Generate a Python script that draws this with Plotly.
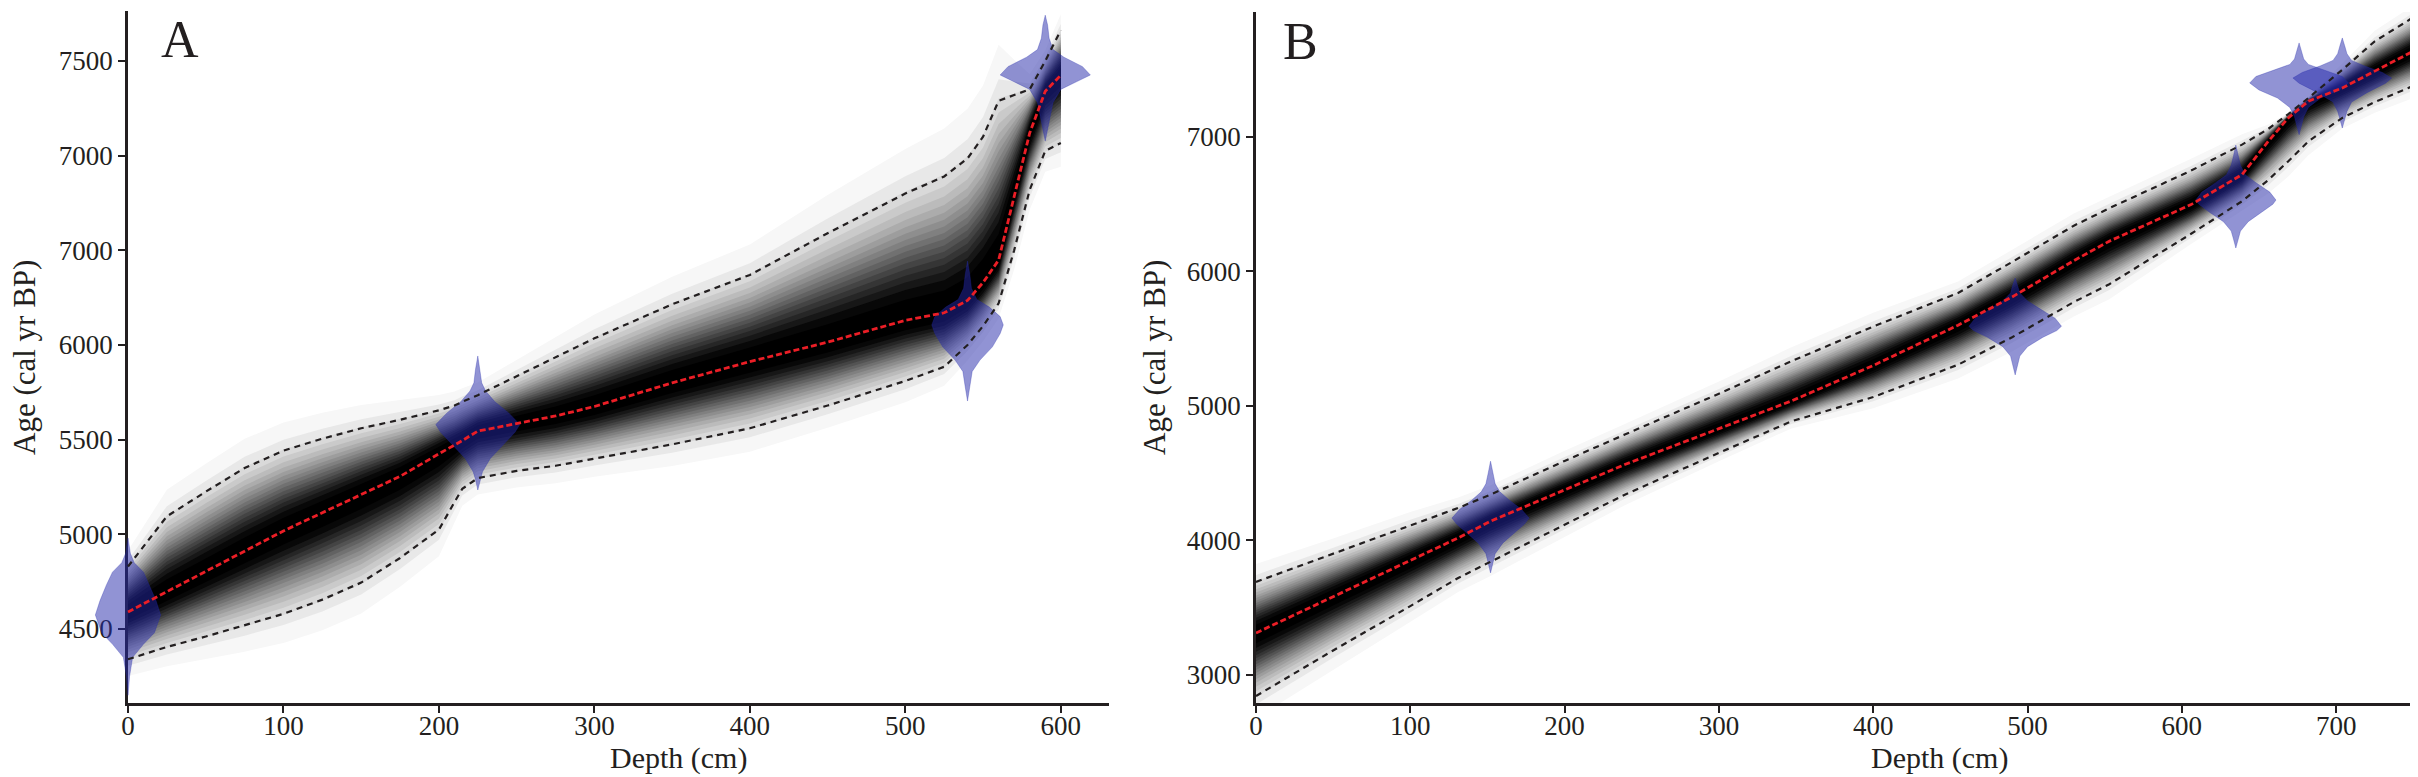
import numpy as np
import plotly.graph_objects as go

W, H = 2418, 777

# ---- Core A: age-depth model ----
depth_a = [0, 25, 50, 75, 100, 125, 150, 175, 200, 210, 215, 225, 250, 275, 300,
           350, 400, 450, 500, 525, 540, 550, 560, 570, 580, 590, 600]
mean_a = [4590, 4697, 4804, 4911, 5018, 5114, 5210, 5306, 5425, 5470, 5495, 5545, 5585, 5625, 5675,
          5800, 5912, 6015, 6130, 6170, 6235, 6330, 6448, 6790, 7120, 7340, 7425]
upper_a = [4830, 5095, 5225, 5350, 5442, 5505, 5560, 5605, 5655, 5680, 5700, 5735, 5835, 5935, 6035,
           6215, 6370, 6590, 6800, 6890, 6985, 7100, 7290, 7320, 7350, 7500, 7663]
lower_a = [4340, 4405, 4460, 4518, 4580, 4655, 4745, 4875, 5025, 5170, 5240, 5297, 5335, 5362, 5400,
           5475, 5560, 5680, 5810, 5885, 6000, 6100, 6220, 6500, 6820, 7025, 7067]

# calibrated dates for core A (depth, ages, half-widths in cm)
dates_a_depth = [0, 225, 540, 590]
date_a1_age = [4150, 4250, 4350, 4420, 4480, 4574, 4650, 4730, 4800, 4850, 4900, 4980]
date_a1_w = [0, 1, 3, 10, 17, 21, 18, 14, 10, 4, 1.5, 0]
date_a2_age = [5234, 5290, 5330, 5400, 5480, 5540, 5580, 5640, 5700, 5757, 5800, 5870, 5942]
date_a2_w = [0, 1.5, 3, 8, 17, 24, 27, 20, 11, 5, 2.5, 1.5, 0]
date_a3_age = [5704, 5780, 5860, 5920, 5990, 6060, 6106, 6150, 6200, 6240, 6300, 6370, 6443]
date_a3_w = [0, 1.5, 3, 8, 16, 21, 23, 21, 14, 6, 2.5, 1.5, 0]
date_a4_age = [7077, 7150, 7200, 7280, 7350, 7390, 7426, 7470, 7520, 7560, 7620, 7690, 7742]
date_a4_w = [0, 1.5, 3, 5, 10, 20, 29, 24, 12, 5, 2.5, 1.5, 0]

# ---- Core B ----
depth_b = [0, 50, 100, 131, 152, 200, 239, 300, 347, 400, 455, 490, 530, 553, 606, 639, 656,
           669, 682, 704, 725, 750]
mean_b = [3310, 3580, 3845, 4017, 4142, 4375, 4563, 4830, 5036, 5300, 5600, 5810, 6080, 6225, 6497,
          6720, 6968, 7142, 7266, 7365, 7489, 7638]
upper_b = [3690, 3900, 4115, 4240, 4340, 4590, 4786, 5090, 5332, 5590, 5840, 6070, 6340, 6470, 6750,
           6943, 7060, 7170, 7290, 7500, 7712, 7890]
lower_b = [2841, 3180, 3510, 3719, 3840, 4115, 4339, 4650, 4885, 5065, 5306, 5510, 5772, 5905, 6280,
           6522, 6680, 6820, 6968, 7142, 7260, 7380]

dates_b_depth = [152, 492, 635, 676, 704]
date_b1_age = [3757, 3830, 3900, 3980, 4060, 4120, 4165, 4230, 4300, 4360, 4420, 4500, 4588]
date_b1_w = [0, 1.5, 3, 8, 16, 22, 25, 20, 12, 6, 3, 1.5, 0]
date_b2_age = [5230, 5300, 5370, 5440, 5510, 5560, 5592, 5650, 5720, 5780, 5840, 5900, 5951]
date_b2_w = [0, 1.5, 3, 8, 18, 27, 30, 26, 16, 8, 3, 1.5, 0]
date_b3_age = [6174, 6240, 6300, 6370, 6440, 6500, 6531, 6590, 6660, 6720, 6790, 6860, 6940]
date_b3_w = [0, 1.5, 3, 8, 17, 24, 26, 22, 13, 6, 3, 1.5, 0]
date_b4_age = [7017, 7080, 7150, 7220, 7290, 7350, 7402, 7450, 7500, 7540, 7580, 7640, 7700]
date_b4_w = [0, 1.5, 3, 6, 14, 26, 32, 28, 16, 6, 3, 1.5, 0]
date_b5_age = [7067, 7130, 7190, 7260, 7330, 7400, 7439, 7480, 7530, 7570, 7620, 7680, 7737]
date_b5_w = [0, 1.5, 3, 6, 16, 28, 32, 26, 14, 6, 3, 1.5, 0]

# tick labels (panel A carries a duplicated "7000" label in the original)
ticks_a_y = [4500, 5000, 5500, 6000, 6500, 7000, 7500]
ticktext_a_y = ["4500", "5000", "5500", "6000", "7000", "7000", "7500"]
ticks_a_x = [0, 100, 200, 300, 400, 500, 600]
ticks_b_y = [3000, 4000, 5000, 6000, 7000]
ticks_b_x = [0, 100, 200, 300, 400, 500, 600, 700]

FONT = "Liberation Serif, Times New Roman, serif"
INK = "#231f20"


def px_x(p):
    return p / W


def px_y(p):
    return 1 - p / H


def grey_bands(depth, mean, upper, lower, xref, yref):
    """Stack of nested filled bands approximating the grey-scale age density."""
    d = np.array(depth, dtype=float)
    m = np.array(mean, dtype=float)
    up = np.array(upper, dtype=float)
    lo = np.array(lower, dtype=float)
    traces = []
    for t in np.linspace(0.03, 0.95, 18):
        f = np.sqrt(-2 * np.log(t)) / 1.96
        top = m + f * (up - m)
        bot = m - f * (m - lo)
        g = int(round(255 * (1 - min(1.0, t * 1.08))))
        traces.append(go.Scatter(
            x=np.concatenate([d, d[::-1]]), y=np.concatenate([top, bot[::-1]]),
            fill="toself", fillcolor=f"rgb({g},{g},{g})", mode="lines",
            line=dict(width=0), hoverinfo="skip", showlegend=False,
            xaxis=xref, yaxis=yref))
    return traces


def date_violin(centre, ages, widths, xref, yref):
    x = [centre + w for w in widths] + [centre - w for w in widths[::-1]]
    y = list(ages) + list(ages[::-1])
    return go.Scatter(x=x, y=y, fill="toself", fillcolor="rgba(35,40,170,0.5)",
                      mode="lines", line=dict(width=0.6, color="rgba(35,40,170,0.5)"),
                      hoverinfo="skip", showlegend=False, xaxis=xref, yaxis=yref)


def model_lines(depth, mean, upper, lower, xref, yref):
    out = []
    for s in (upper, lower):
        out.append(go.Scatter(x=depth, y=s, mode="lines",
                              line=dict(color=INK, width=2.2, dash="6px,5px"),
                              hoverinfo="skip", showlegend=False, xaxis=xref, yaxis=yref))
    out.append(go.Scatter(x=depth, y=mean, mode="lines",
                          line=dict(color="rgb(235,30,38)", width=2.8, dash="6px,3px"),
                          hoverinfo="skip", showlegend=False, xaxis=xref, yaxis=yref))
    return out


def axis_style(**kw):
    base = dict(showline=True, linewidth=2.5, linecolor=INK, ticks="outside", ticklen=7,
                tickwidth=2, tickcolor=INK, showgrid=False, zeroline=False, automargin=False,
                tickfont=dict(family=FONT, size=27, color=INK))
    base.update(kw)
    return base


def main():
    # pixel geometry of the two panels
    a_left, a_right, b_left, b_right = 120, 1101, 1248, 2413
    top_a, top_b, bottom = 3, 4, 695
    range_ax = [0, 631]
    range_ay = [4109, 7764]
    range_bx = [0, 755]
    range_by = [2789, 7930]
    # wider, invisible subplot for panel A so the date at 0 cm can spill past the axis
    a_ext = 60
    cm_per_px = (range_ax[1] - range_ax[0]) / (a_right - a_left)
    range_a3x = [-(a_left - a_ext) * cm_per_px, range_ax[1]]

    fig = go.Figure()
    for tr in grey_bands(depth_a, mean_a, upper_a, lower_a, "x", "y"):
        fig.add_trace(tr)

    for tr in grey_bands(depth_b, mean_b, upper_b, lower_b, "x2", "y2"):
        fig.add_trace(tr)
    b_dates = [(date_b1_age, date_b1_w), (date_b2_age, date_b2_w), (date_b3_age, date_b3_w),
               (date_b4_age, date_b4_w), (date_b5_age, date_b5_w)]
    for c, (ages, w) in zip(dates_b_depth, b_dates):
        fig.add_trace(date_violin(c, ages, w, "x2", "y2"))
    for tr in model_lines(depth_b, mean_b, upper_b, lower_b, "x2", "y2"):
        fig.add_trace(tr)

    a_dates = [(date_a1_age, date_a1_w), (date_a2_age, date_a2_w), (date_a3_age, date_a3_w),
               (date_a4_age, date_a4_w)]
    for c, (ages, w) in zip(dates_a_depth, a_dates):
        fig.add_trace(date_violin(c, ages, w, "x3", "y3"))
    for tr in model_lines(depth_a, mean_a, upper_a, lower_a, "x3", "y3"):
        fig.add_trace(tr)

    ydom_a = [px_y(bottom), px_y(top_a)]
    ydom_b = [px_y(bottom), px_y(top_b)]
    fig.update_layout(
        width=W, height=H,
        margin=dict(l=0, r=0, t=0, b=0, pad=0, autoexpand=False),
        paper_bgcolor="white", plot_bgcolor="rgba(0,0,0,0)",
        xaxis=axis_style(domain=[px_x(a_left), px_x(a_right)], range=range_ax,
                         tickvals=ticks_a_x, anchor="y", ticklabelstandoff=-10),
        yaxis=axis_style(domain=ydom_a, range=range_ay, tickvals=ticks_a_y,
                         ticktext=ticktext_a_y, anchor="x"),
        xaxis2=axis_style(domain=[px_x(b_left), px_x(b_right)], range=range_bx,
                          tickvals=ticks_b_x, anchor="y2", ticklabelstandoff=-10),
        yaxis2=axis_style(domain=ydom_b, range=range_by, tickvals=ticks_b_y, anchor="x2"),
        xaxis3=dict(domain=[px_x(a_ext), px_x(a_right)], range=range_a3x, visible=False,
                    anchor="y3", automargin=False),
        yaxis3=dict(domain=ydom_a, range=range_ay, visible=False, anchor="x3",
                    automargin=False),
    )

    labels = [
        ("Depth (cm)", 670, 750, 0, 30),
        ("Depth (cm)", 1931, 750, 0, 30),
        ("Age (cal yr BP)", 16, 350, -90, 31),
        ("Age (cal yr BP)", 1146, 350, -90, 31),
        ("A", 172, 32, 0, 52),
        ("B", 1292, 33, 0, 52),
    ]
    for text, x, y, ang, size in labels:
        fig.add_annotation(text=text, x=px_x(x), y=px_y(y), xref="paper", yref="paper",
                           showarrow=False, textangle=ang, xanchor="center", yanchor="middle",
                           font=dict(family=FONT, size=size, color=INK))

    fig.write_html("out.html")


if __name__ == "__main__":
    main()
